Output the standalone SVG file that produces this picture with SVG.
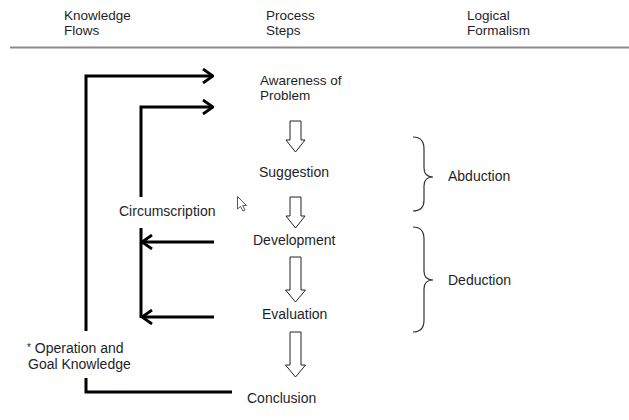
<svg xmlns="http://www.w3.org/2000/svg" width="629" height="420" viewBox="0 0 629 420">
<style>
text{font-family:"Liberation Sans",Arial,sans-serif;fill:#1e1e28}
.h{font-size:13.5px}
.t{font-size:14px}
.c{fill:none;stroke:#000;stroke-width:3;stroke-linejoin:miter}
.bar{fill:#fff;stroke:#222;stroke-width:1}
.br{fill:none;stroke:#333;stroke-width:1.2}
</style>
<defs>
<marker id="ah" viewBox="0 0 12 16" refX="11" refY="8" markerWidth="12" markerHeight="16" markerUnits="userSpaceOnUse" orient="auto">
<path d="M1,1 L11,8 L1,15" fill="none" stroke="#000" stroke-width="2.8"/>
</marker>
<path id="bigarrow" d="M-5.5,0 H5.5 V19 H9.5 L0,31 L-9.5,19 H-5.5 Z"/>
</defs>
<rect width="629" height="420" fill="#fff"/>
<g id="header">
<text class="h" x="64" y="20">Knowledge</text>
<text class="h" x="64" y="35">Flows</text>
<text class="h" x="266" y="20">Process</text>
<text class="h" x="266" y="35">Steps</text>
<text class="h" x="467" y="20">Logical</text>
<text class="h" x="467" y="35">Formalism</text>
<line x1="10" y1="47.5" x2="629" y2="47.5" stroke="#8c8c8c" stroke-width="2"/>
</g>
<g id="awareness"><text class="h" x="260" y="85">Awareness of</text><text class="h" x="260" y="100">Problem</text></g>
<g id="suggestion"><text class="t" x="259" y="177">Suggestion</text></g>
<g id="development"><text class="t" x="253" y="245">Development</text></g>
<g id="evaluation"><text class="t" x="262" y="319">Evaluation</text></g>
<g id="conclusion"><text class="t" x="247" y="403">Conclusion</text></g>
<g id="circumscription"><text class="t" x="119" y="216">Circumscription</text></g>
<g id="operation"><text class="t" x="27" y="353"><tspan font-size="10" dy="-2">*</tspan><tspan dy="2"> Operation and</tspan></text><text class="t" x="28" y="369">Goal Knowledge</text></g>
<g id="abduction"><path class="br" d="M413,137 Q424,137 424,149 L424,168 Q424,177 433,177 Q424,177 424,186 L424,200 Q424,211 413,211"/><text class="t" x="448" y="181">Abduction</text></g>
<g id="deduction"><path class="br" d="M413,227 Q424,227 424,239 L424,271 Q424,280 433,280 Q424,280 424,289 L424,320 Q424,332 413,332"/><text class="t" x="448" y="285">Deduction</text></g>
<g id="connectors">
<use href="#bigarrow" x="295.5" y="121" class="bar"/>
<use href="#bigarrow" x="295.5" y="197" class="bar"/>
<path class="bar" d="M290,257 H301 V290 H305.5 L295.5,302 L285.5,290 H290 Z"/>
<path class="bar" d="M290,332 H301 V365 H305.5 L295.5,377 L285.5,365 H290 Z"/>
<path class="c" d="M86,331 V76 H213" marker-end="url(#ah)"/>
<path class="c" d="M141,197 V107 H213" marker-end="url(#ah)"/>
<path class="c" d="M141,228 V318"/>
<path class="c" d="M214,242 H142" marker-end="url(#ah)"/>
<path class="c" d="M214,317 H142" marker-end="url(#ah)"/>
<path class="c" d="M86,378 V392 H232"/>
</g>
<path d="M237.5,196.5 L237.5,209 L240.5,206.5 L243,211 L245,210 L242.7,205.5 L246.5,205.5 Z" fill="#fff" stroke="#444" stroke-width="0.9"/>
</svg>
